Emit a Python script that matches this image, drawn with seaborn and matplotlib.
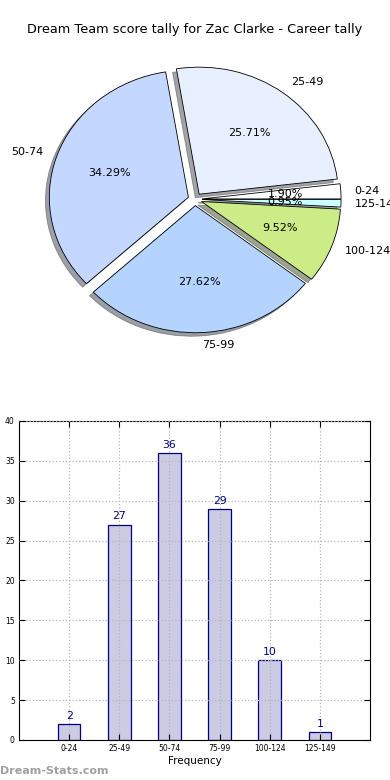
import matplotlib
matplotlib.use('Agg')
import matplotlib.pyplot as plt
import seaborn as sns
import pandas as pd

# score ranges and how many games fell in each
ranges = ['0-24', '25-49', '50-74', '75-99', '100-124', '125-149']
counts = [2, 27, 36, 29, 10, 1]
pie_colors = ['#ffffff', '#e8f0ff', '#c4d8ff', '#b4d4ff', '#ccec88', '#ccffff']

df = pd.DataFrame({'range': ranges, 'count': counts})

plt.rcParams['font.family'] = ['DejaVu Sans']
fig = plt.figure(figsize=(3.9, 7.8), dpi=100)

fig.text(0.5, 1 - 30 / 780, 'Dream Team score tally for Zac Clarke - Career tally',
         ha='center', va='center', fontsize=9.3)

# pie on top
ax1 = fig.add_axes([0.072, 0.549, 0.856, 0.391])
wedges, texts, autotexts = ax1.pie(
    df['count'], labels=df['range'], colors=pie_colors,
    explode=[0.05] * len(counts), autopct='%1.2f%%', shadow=True,
    startangle=0, labeldistance=1.1, pctdistance=0.6,
    wedgeprops={'edgecolor': 'black', 'linewidth': 0.6},
    textprops={'fontsize': 8})
ax1.set_aspect('auto')
ax1.set_xlim(-1.2, 1.2)
ax1.set_ylim(-1.2, 1.2)
ax1.axis('off')

# bars below
ax2 = fig.add_axes([0.0487, 0.0513, 0.9, 0.409])
sns.barplot(data=df, x='range', y='count', ax=ax2, width=0.45,
            color='#cbcbe4', edgecolor='#000080', linewidth=0.9, saturation=1)
for i, c in enumerate(df['count']):
    ax2.text(i, c + 0.4, str(c), ha='center', va='bottom', fontsize=7.8, color='#000080')
ax2.set_xlim(-1, 6)
ax2.set_ylim(0, 40)
ax2.set_yticks(range(0, 41, 5))
ax2.grid(True, linestyle=':', color='#b5b5b5', linewidth=0.9)
ax2.set_axisbelow(False)
ax2.tick_params(labelsize=5.5, direction='in', length=4, top=True, right=True, pad=3)
ax2.set_xlabel('Frequency', fontsize=7.5, labelpad=2)
ax2.set_ylabel('')
for s in ax2.spines.values():
    s.set_linewidth(0.8)

fig.text(0.0, 1 - 771 / 780, 'Dream-Stats.com', ha='left', va='center',
         fontsize=8, color='#a0a0a0', fontweight='bold')

fig.savefig('out.png', dpi=100)
